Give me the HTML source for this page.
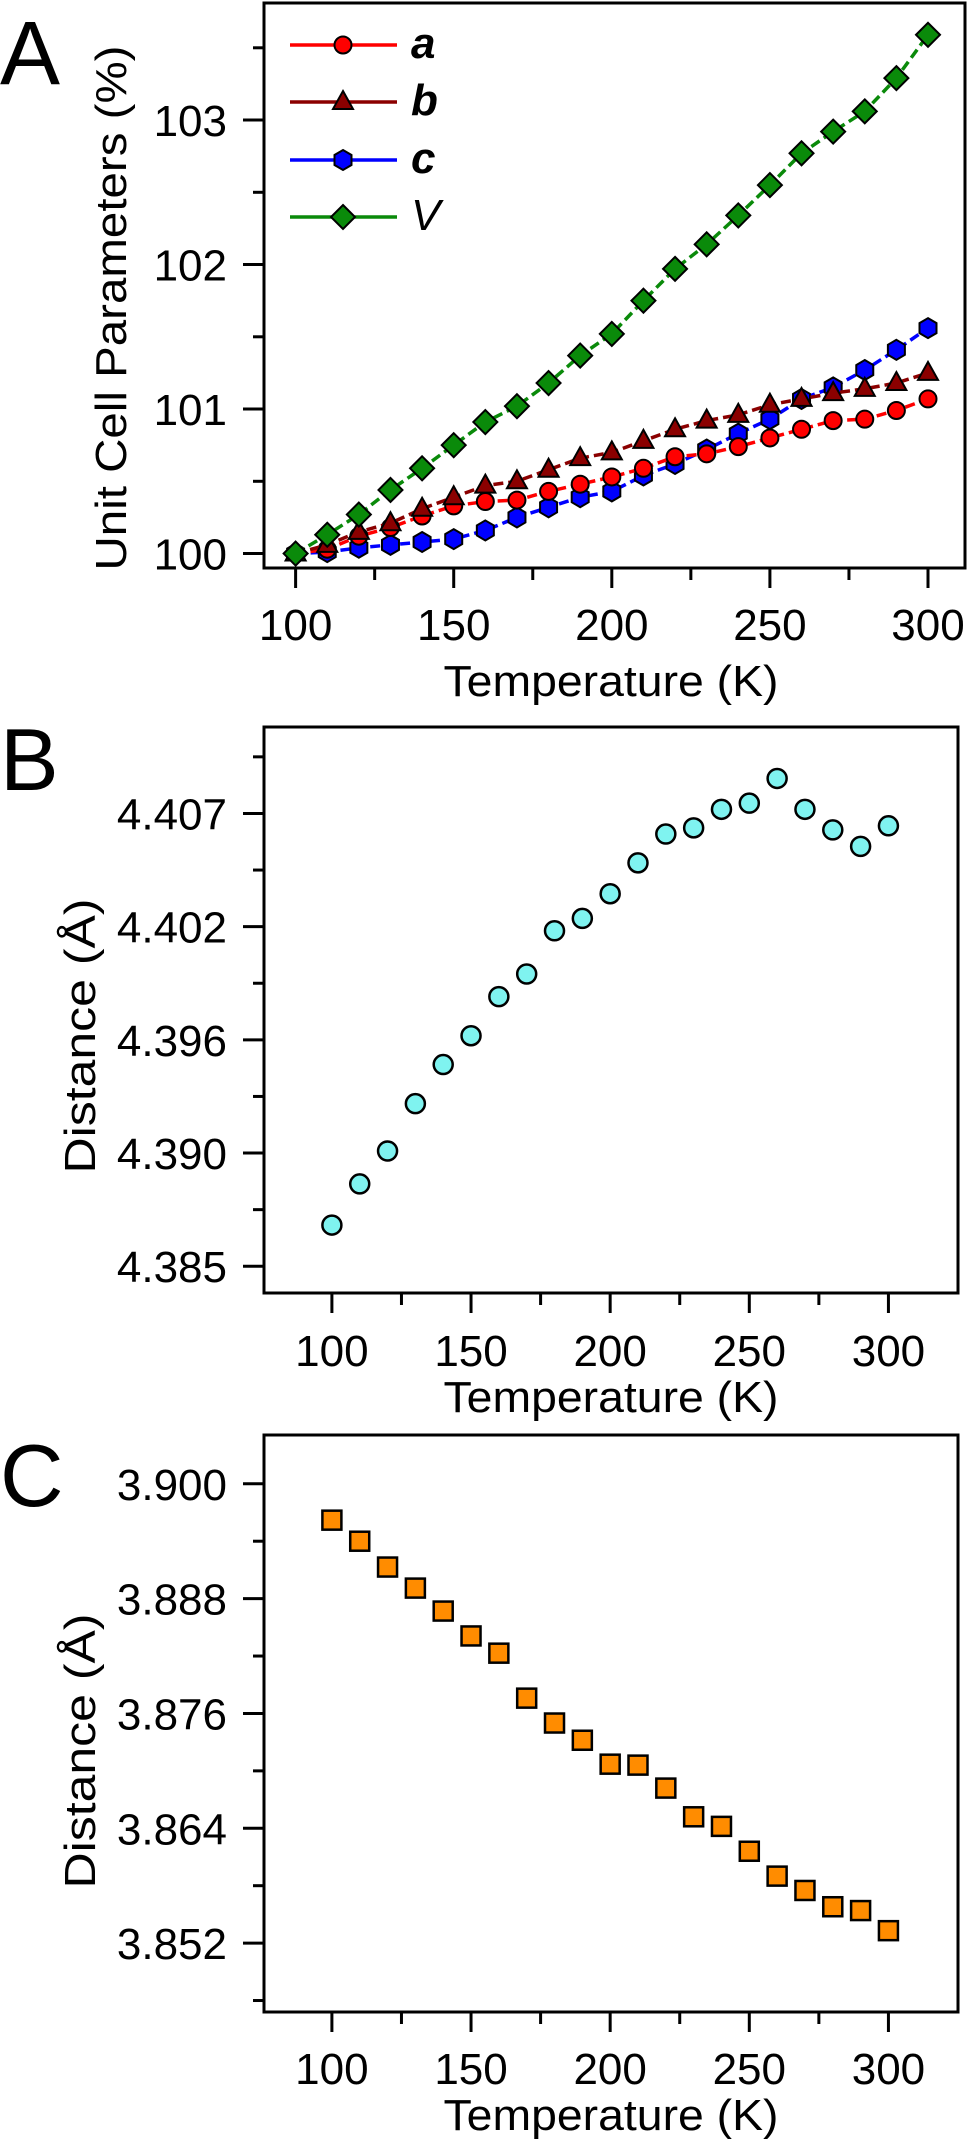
<!DOCTYPE html>
<html><head><meta charset="utf-8"><style>
html,body{margin:0;padding:0;background:#fff}
svg{display:block}
text{font-family:"Liberation Sans",Arial,sans-serif;fill:#000}
</style></head><body>
<svg id="fig" width="967" height="2139" viewBox="0 0 967 2139" xmlns="http://www.w3.org/2000/svg">
<text x="0" y="84" font-size="90">A</text>
<text x="0" y="790" font-size="88">B</text>
<text x="0" y="1506" font-size="88">C</text>
<g id="gA"></g>
<g id="gB"></g>
<g id="gC"></g>
</svg>
<script>
const temps = [100,110,120,130,140,150,160,170,180,190,200,210,220,230,240,250,260,270,280,290,300];
const seriesA = [100,100.03,100.12,100.18,100.26,100.33,100.36,100.37,100.43,100.48,100.53,100.59,100.67,100.69,100.74,100.80,100.86,100.92,100.93,100.99,101.07];
const seriesB = [100,100.06,100.15,100.21,100.31,100.39,100.47,100.50,100.58,100.66,100.70,100.78,100.86,100.92,100.96,101.03,101.07,101.11,101.14,101.18,101.25];
const seriesC = [100,100.01,100.04,100.06,100.08,100.10,100.16,100.25,100.32,100.39,100.43,100.54,100.62,100.72,100.83,100.93,101.07,101.15,101.27,101.41,101.56];
const seriesV = [100,100.13,100.27,100.44,100.59,100.75,100.91,101.02,101.18,101.37,101.52,101.75,101.97,102.14,102.34,102.55,102.77,102.92,103.06,103.29,103.59];
const distB = [4.3870,4.3890,4.3906,4.3929,4.3948,4.3962,4.3981,4.3992,4.4013,4.4019,4.4031,4.4046,4.4060,4.4063,4.4072,4.4075,4.4087,4.4072,4.4062,4.4054,4.4064];
const distC = [3.8962,3.8940,3.8913,3.8891,3.8867,3.8841,3.8823,3.8776,3.8750,3.8732,3.8707,3.8706,3.8682,3.8652,3.8642,3.8616,3.8590,3.8575,3.8558,3.8554,3.8533];
const ticksXA = [100,150,200,250,300];
const ticksYA = [100,101,102,103];
const ticksYALabels = ["100","101","102","103"];
const ticksYB = [4.385,4.3905,4.396,4.4015,4.407];
const ticksYBLabels = ["4.385","4.390","4.396","4.402","4.407"];
const ticksYC = [3.852,3.864,3.876,3.888,3.900];
const ticksYCLabels = ["3.852","3.864","3.876","3.888","3.900"];

const NS="http://www.w3.org/2000/svg";
function mk(parent,tag,attrs){const e=document.createElementNS(NS,tag);for(const k in attrs)e.setAttribute(k,attrs[k]);parent.appendChild(e);return e;}
function lin(d0,d1,r0,r1){return v=>r0+(v-d0)/(d1-d0)*(r1-r0);}

function axes(g,box,xs,ys,xt,yt,ytl,yMinor,tickLabelY,titleY){
  const fr=mk(g,'rect',{x:box.l,y:box.t,width:box.r-box.l,height:box.b-box.t,fill:'none',stroke:'#000','stroke-width':3});
  
  
  xt.forEach((v,i)=>{
    const x=xs(v);
    const t=mk(g,'line',{x1:x,x2:x,y1:box.b,y2:box.b+20,stroke:'#000','stroke-width':3});
    
    
    const m=xs(v+25);
    if(m<box.r){const mt=mk(g,'line',{x1:m,x2:m,y1:box.b,y2:box.b+12,stroke:'#000','stroke-width':3});
      
      }
    if(i===0){const m0=xs(v-25);if(m0>box.l){const mt=mk(g,'line',{x1:m0,x2:m0,y1:box.b,y2:box.b+12,stroke:'#000','stroke-width':3});
      
      }}
    const tl=mk(g,'text',{x:x,y:tickLabelY,'font-size':44,'text-anchor':'middle'});tl.textContent=String(v);
    
    
  });
  yt.forEach((v,i)=>{
    const y=ys(v);
    const t=mk(g,'line',{x1:box.l-21,x2:box.l,y1:y,y2:y,stroke:'#000','stroke-width':3});
    
    
    const tl=mk(g,'text',{x:box.l-37,y:y+16,'font-size':44,'text-anchor':'end'});tl.textContent=ytl[i];
    
    
  });
  yMinor.forEach(v=>{const y=ys(v);
    const t=mk(g,'line',{x1:box.l-11,x2:box.l,y1:y,y2:y,stroke:'#000','stroke-width':3});
    
    });
  const xt2=mk(g,'text',{x:611,y:titleY,'font-size':44,'text-anchor':'middle',textLength:335,lengthAdjust:'spacingAndGlyphs'});
  xt2.textContent='Temperature (K)';
  
  
  return xt2;
}

/* Panel A */
(function(){
  const g=document.getElementById('gA');
  const box={l:264,r:965,t:3,b:568};
  const xs=lin(90,311.7,box.l,box.r), ys=lin(99.9,103.81,box.b,box.t);
  const yMinor=[100.5,101.5,102.5,103.5];
  axes(g,box,xs,ys,ticksXA,ticksYA,ticksYALabels,yMinor,640,696);
  const yl=mk(g,'text',{x:0,y:0,'font-size':44,'text-anchor':'middle',transform:'translate(126,308) rotate(-90)',textLength:525,lengthAdjust:'spacingAndGlyphs'});
  yl.textContent='Unit Cell Parameters (%)';
  
  
  const defs=[
    {d:seriesC,c:'#0000ff',m:'hex',n:'c'},
    {d:seriesA,c:'#ff0000',m:'circle',n:'a'},
    {d:seriesB,c:'#8b0000',m:'tri',n:'b'},
    {d:seriesV,c:'#0a8a0a',m:'diamond',n:'V'}];
  function marker(p,m,x,y,c){
    let e;
    if(m==='circle') e=mk(p,'circle',{cx:x,cy:y,r:8.5});
    else if(m==='tri') e=mk(p,'polygon',{points:`${x},${y-11} ${x+10},${y+7} ${x-10},${y+7}`});
    else if(m==='hex') e=mk(p,'polygon',{points:`${x},${y-10} ${x+8.5},${y-5} ${x+8.5},${y+5} ${x},${y+10} ${x-8.5},${y+5} ${x-8.5},${y-5}`});
    else e=mk(p,'polygon',{points:`${x},${y-12} ${x+12},${y} ${x},${y+12} ${x-12},${y}`});
    e.setAttribute('fill',c);e.setAttribute('stroke','#000');e.setAttribute('stroke-width',2);
    return e;
  }
  defs.forEach(s=>{
    const sg=mk(g,'g',{});
    
    
    const pts=temps.map((t,i)=>xs(t)+','+ys(s.d[i])).join(' ');
    const ln=mk(sg,'polyline',{points:pts,fill:'none',stroke:s.c,'stroke-width':3.5,'stroke-dasharray':'10 5'});
    
    
    temps.forEach((t,i)=>{const e=marker(sg,s.m,xs(t),ys(s.d[i]),s.c);
      
      });
  });
  const legY=[45,102,160,217];
  const legOrder=[defs[1],defs[2],defs[0],defs[3]];
  legOrder.forEach((s,i)=>{
    const lg=mk(g,'g',{});
    
    
    mk(lg,'line',{x1:290,x2:397,y1:legY[i],y2:legY[i],stroke:s.c,'stroke-width':3.5});
    marker(lg,s.m,343,legY[i],s.c);
    const t=mk(lg,'text',{x:411,y:legY[i]+13,'font-size':44,'font-style':'italic','font-weight':s.n==='V'?'normal':'bold'});
    t.textContent=s.n;
  });
})();

/* Panel B */
(function(){
  const g=document.getElementById('gB');
  const box={l:264,r:958,t:727,b:1293};
  const xs=lin(75.6,325,box.l,box.r), ys=lin(4.3837,4.4112,box.b,box.t);
  const yMinor=[4.38775,4.39325,4.39875,4.40425,4.40975];
  axes(g,box,xs,ys,ticksXA,ticksYB,ticksYBLabels,yMinor,1366,1412);
  const yl=mk(g,'text',{x:0,y:0,'font-size':44,'text-anchor':'middle',transform:'translate(95,1036) rotate(-90)',textLength:275,lengthAdjust:'spacingAndGlyphs'});
  yl.textContent='Distance (Å)';
  
  
  temps.forEach((t,i)=>{
    const c=mk(g,'circle',{cx:xs(t),cy:ys(distB[i]),r:9.5,fill:'#7ff3f0',stroke:'#000','stroke-width':2.5});
    
    
  });
})();

/* Panel C */
(function(){
  const g=document.getElementById('gC');
  const box={l:264,r:958,t:1435,b:2012};
  const xs=lin(75.6,325,box.l,box.r), ys=lin(3.8448,3.9051,box.b,box.t);
  const yMinor=[3.846,3.858,3.870,3.882,3.894];
  axes(g,box,xs,ys,ticksXA,ticksYC,ticksYCLabels,yMinor,2084,2130);
  const yl=mk(g,'text',{x:0,y:0,'font-size':44,'text-anchor':'middle',transform:'translate(95,1751) rotate(-90)',textLength:275,lengthAdjust:'spacingAndGlyphs'});
  yl.textContent='Distance (Å)';
  
  
  temps.forEach((t,i)=>{
    const s=mk(g,'rect',{x:xs(t)-9.5,y:ys(distC[i])-9.5,width:19,height:19,fill:'#ff8c00',stroke:'#000','stroke-width':2.5});
    
    
  });
})();
</script>
</body></html>
